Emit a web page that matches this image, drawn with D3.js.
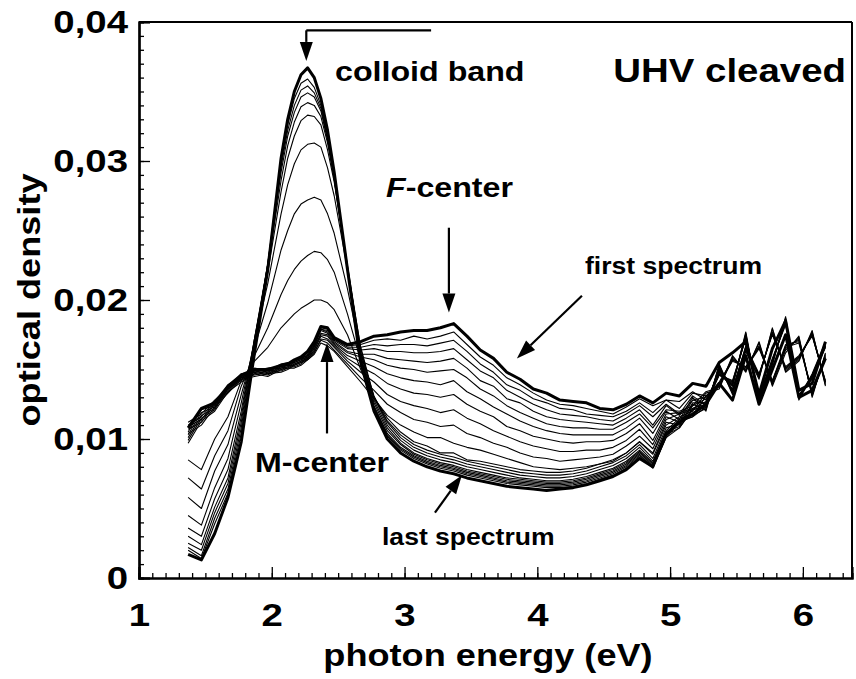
<!DOCTYPE html>
<html lang="en">
<head>
<meta charset="utf-8">
<title>UHV cleaved - optical density</title>
<script src="https://cdnjs.cloudflare.com/ajax/libs/d3/7.8.5/d3.min.js"></script>
<style>
body { margin: 0; background: #fff; }
text { font-family: "Liberation Sans", Arial, sans-serif; font-weight: bold; fill: #000; }
.spec { fill: none; stroke: #000; stroke-linejoin: round; }
.thin { stroke-width: 1.1; }
.thick { stroke-width: 3; }
.tick line { stroke-width: 1.3; }
</style>
</head>
<body>
<script>
// photon energy (eV) of every sample point
var energy = [1.37,1.47,1.57,1.67,1.77,1.87,1.97,2.07,2.12,2.17,2.22,2.27,2.32,2.37,2.42,2.47,2.57,2.67,2.77,2.87,2.97,3.07,3.17,3.27,3.37,3.47,3.57,3.67,3.77,3.87,3.97,4.07,4.17,4.27,4.37,4.47,4.57,4.67,4.77,4.87,4.97,5.07,5.17,5.27,5.37,5.47,5.57,5.67,5.77,5.87,5.97,6.07,6.17];

// optical density, first spectrum (F-center dominated)
var s01 = [0.0108,0.0122,0.0126,0.0138,0.0146,0.0150,0.0150,0.0153,0.0154,0.0157,0.0159,0.0163,0.0170,0.0181,0.0180,0.0173,0.0168,0.0170,0.0174,0.0175,0.0177,0.0178,0.0178,0.0180,0.0183,0.0174,0.0164,0.0158,0.0148,0.0143,0.0136,0.0133,0.0128,0.0127,0.0126,0.0122,0.0121,0.0125,0.0131,0.0126,0.0133,0.0131,0.0140,0.0138,0.0155,0.0162,0.0170,0.0132,0.0165,0.0185,0.0135,0.0140,0.0170];
// F-center band bleaching
var s02 = [0.0112,0.0118,0.0128,0.0137,0.0147,0.0149,0.0151,0.0152,0.0153,0.0156,0.0158,0.0162,0.0169,0.0180,0.0179,0.0172,0.0167,0.0168,0.0171,0.0172,0.0171,0.0174,0.0172,0.0174,0.0177,0.0168,0.0159,0.0153,0.0144,0.0139,0.0133,0.0128,0.0125,0.0124,0.0122,0.0120,0.0118,0.0123,0.0129,0.0124,0.0128,0.0127,0.0134,0.0128,0.0146,0.0142,0.0172,0.0130,0.0158,0.0182,0.0132,0.0143,0.0166];
var s03 = [0.0105,0.0121,0.0124,0.0139,0.0145,0.0151,0.0149,0.0154,0.0155,0.0155,0.0157,0.0161,0.0168,0.0179,0.0178,0.0172,0.0166,0.0166,0.0168,0.0167,0.0168,0.0168,0.0167,0.0169,0.0171,0.0163,0.0154,0.0148,0.0139,0.0135,0.0129,0.0126,0.0122,0.0121,0.0118,0.0117,0.0116,0.0120,0.0126,0.0119,0.0128,0.0122,0.0133,0.0131,0.0140,0.0156,0.0152,0.0166,0.0142,0.0168,0.0170,0.0134,0.0158];
var s04 = [0.0110,0.0116,0.0127,0.0136,0.0146,0.0148,0.0150,0.0151,0.0153,0.0156,0.0158,0.0160,0.0167,0.0179,0.0177,0.0171,0.0165,0.0164,0.0165,0.0163,0.0163,0.0162,0.0162,0.0163,0.0165,0.0157,0.0149,0.0144,0.0135,0.0130,0.0125,0.0121,0.0118,0.0117,0.0116,0.0114,0.0113,0.0118,0.0124,0.0116,0.0125,0.0118,0.0131,0.0124,0.0150,0.0136,0.0166,0.0146,0.0176,0.0152,0.0160,0.0174,0.0142];
var s05 = [0.0103,0.0119,0.0123,0.0138,0.0144,0.0150,0.0148,0.0153,0.0154,0.0154,0.0156,0.0160,0.0167,0.0178,0.0176,0.0170,0.0163,0.0161,0.0161,0.0158,0.0157,0.0156,0.0155,0.0156,0.0158,0.0151,0.0142,0.0138,0.0129,0.0126,0.0120,0.0116,0.0114,0.0113,0.0112,0.0111,0.0110,0.0115,0.0121,0.0110,0.0124,0.0117,0.0128,0.0125,0.0150,0.0138,0.0177,0.0127,0.0153,0.0188,0.0129,0.0147,0.0170];
var s06 = [0.0109,0.0114,0.0126,0.0135,0.0145,0.0147,0.0149,0.0150,0.0152,0.0155,0.0157,0.0159,0.0166,0.0176,0.0175,0.0169,0.0162,0.0159,0.0157,0.0153,0.0151,0.0150,0.0148,0.0149,0.0150,0.0144,0.0136,0.0131,0.0124,0.0119,0.0115,0.0111,0.0109,0.0108,0.0108,0.0107,0.0107,0.0112,0.0118,0.0108,0.0121,0.0120,0.0124,0.0134,0.0137,0.0160,0.0148,0.0170,0.0138,0.0162,0.0174,0.0130,0.0162];
var s07 = [0.0101,0.0117,0.0122,0.0137,0.0143,0.0149,0.0147,0.0152,0.0153,0.0153,0.0155,0.0159,0.0165,0.0175,0.0174,0.0168,0.0160,0.0156,0.0152,0.0147,0.0144,0.0142,0.0141,0.0139,0.0142,0.0134,0.0129,0.0123,0.0118,0.0113,0.0109,0.0106,0.0104,0.0103,0.0103,0.0103,0.0103,0.0108,0.0115,0.0104,0.0120,0.0114,0.0130,0.0120,0.0154,0.0132,0.0163,0.0143,0.0180,0.0148,0.0156,0.0178,0.0138];
var s08 = [0.0107,0.0112,0.0125,0.0134,0.0144,0.0146,0.0148,0.0149,0.0151,0.0154,0.0156,0.0158,0.0164,0.0174,0.0172,0.0167,0.0158,0.0152,0.0147,0.0140,0.0136,0.0133,0.0132,0.0130,0.0132,0.0125,0.0120,0.0116,0.0109,0.0106,0.0102,0.0100,0.0098,0.0097,0.0098,0.0098,0.0099,0.0104,0.0111,0.0099,0.0118,0.0119,0.0122,0.0127,0.0147,0.0141,0.0174,0.0131,0.0156,0.0184,0.0131,0.0144,0.0167];
var s09 = [0.0099,0.0115,0.0121,0.0136,0.0142,0.0148,0.0146,0.0151,0.0152,0.0152,0.0154,0.0158,0.0163,0.0172,0.0171,0.0166,0.0156,0.0148,0.0141,0.0132,0.0127,0.0124,0.0122,0.0119,0.0121,0.0115,0.0111,0.0106,0.0102,0.0098,0.0095,0.0093,0.0091,0.0091,0.0092,0.0092,0.0094,0.0099,0.0107,0.0096,0.0116,0.0112,0.0128,0.0130,0.0141,0.0157,0.0151,0.0165,0.0141,0.0166,0.0169,0.0133,0.0159];
var s10 = [0.0104,0.0110,0.0123,0.0133,0.0143,0.0145,0.0147,0.0148,0.0150,0.0153,0.0155,0.0157,0.0162,0.0171,0.0169,0.0164,0.0154,0.0144,0.0135,0.0125,0.0119,0.0114,0.0112,0.0109,0.0110,0.0104,0.0101,0.0097,0.0094,0.0090,0.0087,0.0086,0.0084,0.0085,0.0086,0.0087,0.0089,0.0095,0.0102,0.0093,0.0114,0.0118,0.0121,0.0123,0.0151,0.0135,0.0167,0.0147,0.0175,0.0151,0.0159,0.0175,0.0141];
var s11 = [0.0097,0.0113,0.0120,0.0134,0.0141,0.0147,0.0145,0.0150,0.0151,0.0151,0.0153,0.0157,0.0161,0.0169,0.0167,0.0163,0.0152,0.0141,0.0129,0.0117,0.0110,0.0105,0.0101,0.0101,0.0097,0.0094,0.0092,0.0089,0.0086,0.0083,0.0080,0.0079,0.0078,0.0079,0.0080,0.0082,0.0084,0.0090,0.0098,0.0090,0.0112,0.0110,0.0126,0.0126,0.0149,0.0139,0.0176,0.0126,0.0154,0.0187,0.0128,0.0146,0.0169];
// colloid band growing
var s12 = [0.0085,0.0078,0.0100,0.0116,0.0142,0.0156,0.0166,0.0180,0.0185,0.0190,0.0194,0.0197,0.0200,0.0200,0.0198,0.0193,0.0175,0.0150,0.0130,0.0115,0.0105,0.0098,0.0095,0.0090,0.0090,0.0085,0.0084,0.0082,0.0080,0.0078,0.0077,0.0076,0.0076,0.0077,0.0079,0.0082,0.0085,0.0090,0.0098,0.0089,0.0110,0.0116,0.0120,0.0133,0.0136,0.0159,0.0149,0.0169,0.0139,0.0164,0.0173,0.0131,0.0161];
var s13 = [0.0072,0.0064,0.0088,0.0106,0.0138,0.0160,0.0180,0.0204,0.0214,0.0222,0.0228,0.0232,0.0235,0.0234,0.0229,0.0220,0.0190,0.0156,0.0130,0.0113,0.0103,0.0096,0.0092,0.0089,0.0087,0.0084,0.0082,0.0080,0.0078,0.0076,0.0075,0.0074,0.0074,0.0075,0.0077,0.0080,0.0083,0.0088,0.0096,0.0086,0.0108,0.0111,0.0125,0.0121,0.0153,0.0133,0.0164,0.0144,0.0179,0.0149,0.0157,0.0177,0.0139];
var s14 = [0.0058,0.0050,0.0077,0.0096,0.0132,0.0166,0.0198,0.0236,0.0250,0.0262,0.0269,0.0272,0.0274,0.0272,0.0262,0.0248,0.0208,0.0162,0.0131,0.0112,0.0101,0.0094,0.0090,0.0087,0.0085,0.0082,0.0080,0.0078,0.0076,0.0074,0.0073,0.0072,0.0072,0.0073,0.0075,0.0078,0.0081,0.0086,0.0094,0.0084,0.0106,0.0115,0.0118,0.0124,0.0148,0.0140,0.0173,0.0129,0.0157,0.0185,0.0130,0.0145,0.0167];
var s15 = [0.0045,0.0038,0.0065,0.0086,0.0126,0.0170,0.0212,0.0262,0.0283,0.0298,0.0308,0.0312,0.0313,0.0310,0.0295,0.0275,0.0222,0.0166,0.0130,0.0110,0.0099,0.0092,0.0088,0.0085,0.0083,0.0080,0.0078,0.0076,0.0074,0.0072,0.0071,0.0070,0.0070,0.0071,0.0073,0.0076,0.0079,0.0084,0.0092,0.0083,0.0105,0.0109,0.0124,0.0129,0.0139,0.0158,0.0150,0.0167,0.0140,0.0167,0.0171,0.0132,0.0160];
var s16 = [0.0036,0.0030,0.0057,0.0078,0.0120,0.0172,0.0220,0.0278,0.0302,0.0318,0.0329,0.0333,0.0332,0.0326,0.0308,0.0285,0.0225,0.0165,0.0128,0.0108,0.0097,0.0090,0.0086,0.0083,0.0081,0.0078,0.0076,0.0074,0.0072,0.0071,0.0070,0.0069,0.0069,0.0070,0.0072,0.0075,0.0078,0.0083,0.0091,0.0082,0.0104,0.0114,0.0117,0.0122,0.0152,0.0134,0.0166,0.0145,0.0177,0.0150,0.0158,0.0175,0.0140];
var s17 = [0.0030,0.0024,0.0051,0.0072,0.0116,0.0172,0.0224,0.0286,0.0311,0.0328,0.0339,0.0342,0.0340,0.0332,0.0313,0.0287,0.0224,0.0162,0.0126,0.0106,0.0096,0.0089,0.0085,0.0082,0.0080,0.0077,0.0075,0.0073,0.0071,0.0070,0.0069,0.0068,0.0068,0.0069,0.0071,0.0074,0.0077,0.0082,0.0090,0.0081,0.0103,0.0108,0.0122,0.0125,0.0147,0.0138,0.0175,0.0128,0.0155,0.0186,0.0129,0.0144,0.0168];
var s18 = [0.0025,0.0020,0.0047,0.0068,0.0112,0.0172,0.0226,0.0292,0.0318,0.0335,0.0346,0.0349,0.0346,0.0336,0.0315,0.0288,0.0223,0.0160,0.0124,0.0104,0.0094,0.0088,0.0084,0.0081,0.0079,0.0076,0.0074,0.0072,0.0070,0.0069,0.0068,0.0067,0.0067,0.0068,0.0070,0.0073,0.0076,0.0081,0.0089,0.0080,0.0102,0.0113,0.0116,0.0131,0.0138,0.0157,0.0152,0.0166,0.0142,0.0165,0.0172,0.0133,0.0158];
var s19 = [0.0022,0.0016,0.0043,0.0064,0.0108,0.0170,0.0226,0.0296,0.0322,0.0340,0.0351,0.0354,0.0349,0.0338,0.0316,0.0289,0.0222,0.0158,0.0123,0.0103,0.0093,0.0087,0.0083,0.0080,0.0078,0.0075,0.0073,0.0071,0.0069,0.0068,0.0067,0.0066,0.0066,0.0067,0.0069,0.0072,0.0075,0.0080,0.0088,0.0080,0.0101,0.0108,0.0121,0.0124,0.0146,0.0139,0.0174,0.0127,0.0156,0.0184,0.0131,0.0146,0.0166];
var s20 = [0.0020,0.0014,0.0039,0.0061,0.0104,0.0168,0.0226,0.0300,0.0326,0.0345,0.0356,0.0359,0.0353,0.0340,0.0318,0.0290,0.0222,0.0157,0.0122,0.0102,0.0092,0.0086,0.0082,0.0079,0.0077,0.0074,0.0072,0.0070,0.0068,0.0067,0.0066,0.0065,0.0065,0.0066,0.0068,0.0071,0.0074,0.0079,0.0087,0.0079,0.0101,0.0112,0.0116,0.0123,0.0150,0.0135,0.0165,0.0146,0.0176,0.0151,0.0159,0.0176,0.0141];
// last spectrum (colloid band)
var s21 = [0.0017,0.0013,0.0032,0.0058,0.0098,0.0162,0.0222,0.0302,0.0330,0.0350,0.0362,0.0367,0.0360,0.0345,0.0322,0.0292,0.0222,0.0155,0.0120,0.0100,0.0090,0.0084,0.0080,0.0077,0.0075,0.0072,0.0070,0.0068,0.0066,0.0065,0.0064,0.0063,0.0064,0.0065,0.0067,0.0070,0.0073,0.0078,0.0086,0.0080,0.0104,0.0112,0.0118,0.0125,0.0140,0.0128,0.0160,0.0125,0.0150,0.0175,0.0130,0.0135,0.0158];

var thinSpectra = [s02,s03,s04,s05,s06,s07,s08,s09,s10,s11,s12,s13,s14,s15,s16,s17,s18,s19,s20];
var thickSpectra = [s01,s21];

var xTicks = [1,2,3,4,5,6];
var yTicks = [0,0.01,0.02,0.03,0.04];

var W = 856, H = 679;
var mLeft = 139, mRight = 852, mTop = 22, mBottom = 578;
var SX = 1.13; // horizontal stretch of the lettering

var svg = d3.select("body").append("svg")
  .attr("width", W).attr("height", H);

var x = d3.scaleLinear().domain([1, 6.37]).range([mLeft, mRight]);
var y = d3.scaleLinear().domain([0, 0.04]).range([mBottom, mTop]);

var line = d3.line()
  .x(function(d, i) { return x(energy[i]); })
  .y(function(d) { return y(d); });

svg.append("g").selectAll("path")
  .data(thinSpectra).enter().append("path")
  .attr("class", "spec thin").attr("d", line);

svg.append("g").selectAll("path")
  .data(thickSpectra).enter().append("path")
  .attr("class", "spec thick").attr("d", line);

// minor ticks
var xMinor = d3.range(11, 64).map(function(v) { return v / 10; });
var yMinor = d3.range(0, 41).map(function(v) { return v / 1000; });
svg.append("g").attr("transform", "translate(0," + mBottom + ")")
  .call(d3.axisBottom(x).tickValues(xMinor).tickSize(-5).tickFormat(""));
svg.append("g").attr("transform", "translate(" + mLeft + ",0)")
  .call(d3.axisLeft(y).tickValues(yMinor).tickSize(-5).tickFormat(""));

// major ticks and labels
var gx = svg.append("g").attr("transform", "translate(0," + mBottom + ")")
  .call(d3.axisBottom(x).tickValues(xTicks).tickSize(-11).tickPadding(25).tickFormat(d3.format("d")));
var gy = svg.append("g").attr("transform", "translate(" + mLeft + ",0)")
  .call(d3.axisLeft(y).tickValues(yTicks).tickSize(-11).tickPadding(11)
    .tickFormat(function(d) { return d === 0 ? "0" : d3.format(".2f")(d).replace(".", ","); }));
gx.selectAll("text").style("font-size", "32px").attr("font-family", null)
  .attr("transform", "scale(1.2,1)");
gy.selectAll("text").style("font-size", "32px").attr("font-family", null)
  .attr("x", -11 / 1.2).attr("transform", "scale(1.2,1)");
svg.selectAll(".domain").attr("stroke-width", 2.2);

// frame
svg.append("line").attr("x1", mLeft).attr("x2", mRight).attr("y1", mTop).attr("y2", mTop)
  .attr("stroke", "#000").attr("stroke-width", 2);
svg.append("line").attr("x1", mRight).attr("x2", mRight).attr("y1", mTop).attr("y2", mBottom)
  .attr("stroke", "#000").attr("stroke-width", 2);

function label(px, py, str, size, anchor, rot) {
  var t = svg.append("text")
    .attr("transform", "translate(" + px + "," + py + ")" + (rot ? " rotate(" + rot + ")" : "") + " scale(" + SX + ",1)")
    .attr("text-anchor", anchor || "start")
    .style("font-size", size + "px");
  t.text(str);
  return t;
}

function arrow(x1, y1, x2, y2) {
  var dx = x2 - x1, dy = y2 - y1, len = Math.sqrt(dx * dx + dy * dy);
  var ux = dx / len, uy = dy / len, hl = 19, hw = 6.5;
  var bx = x2 - ux * hl, by = y2 - uy * hl;
  svg.append("line").attr("x1", x1).attr("y1", y1).attr("x2", bx).attr("y2", by)
    .attr("stroke", "#000").attr("stroke-width", 2.2);
  svg.append("path")
    .attr("d", "M" + x2 + "," + y2 + "L" + (bx - uy * hw) + "," + (by + ux * hw) + "L" + (bx + uy * hw) + "," + (by - ux * hw) + "Z")
    .attr("fill", "#000");
}

// axis titles
label(488, 666, "photon energy (eV)", 32, "middle");
label(40, 300, "optical density", 32, "middle", -90);

// annotations
svg.append("path")
  .attr("d", "M" + x(3.2) + "," + y(0.0394) + "H" + x(2.26))
  .attr("stroke", "#000").attr("stroke-width", 2.2).attr("fill", "none");
arrow(x(2.26), y(0.0394), x(2.26), y(0.0372));
label(335, 81, "colloid band", 28.5);
label(846, 82, "UHV cleaved", 34, "end");

var fc = label(386, 197, "", 28.5);
fc.append("tspan").style("font-style", "italic").text("F");
fc.append("tspan").text("-center");
arrow(x(3.334), y(0.0252), x(3.334), y(0.0191));

label(585, 274, "first spectrum", 23.5);
arrow(x(4.336), y(0.0203), x(3.846), y(0.0158));

label(255, 472, "M-center", 28.5);
arrow(x(2.416), y(0.0104), x(2.416), y(0.0169));

label(382, 545, "last spectrum", 23.5);
arrow(x(3.229), y(0.0047), x(3.432), y(0.0074));
</script>
</body>
</html>
